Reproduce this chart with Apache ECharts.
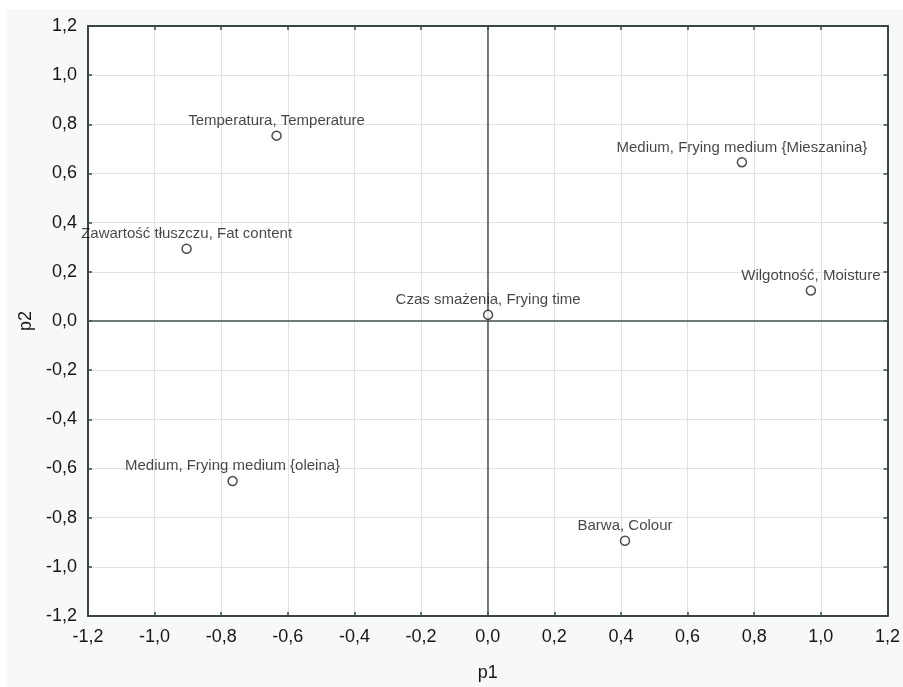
<!DOCTYPE html>
<html>
<head>
<meta charset="utf-8">
<script src="https://cdn.jsdelivr.net/npm/echarts@6/dist/echarts.min.js"></script>
<style>
  html, body { margin: 0; padding: 0; background: #ffffff; }
  #chart { width: 903px; height: 687px; }
</style>
</head>
<body>
<div id="chart"></div>
<script>
// Variable names shown next to each point
const names = [
  'Temperatura, Temperature',
  'Medium, Frying medium {Mieszanina}',
  'Zawartość tłuszczu, Fat content',
  'Wilgotność, Moisture',
  'Czas smażenia, Frying time',
  'Medium, Frying medium {oleina}',
  'Barwa, Colour'
];
// Coordinates on the first factor (p1)
const p1Values = [-0.634, 0.763, -0.904, 0.970, 0.001, -0.766, 0.412];
// Coordinates on the second factor (p2)
const p2Values = [0.754, 0.646, 0.294, 0.124, 0.025, -0.651, -0.894];

// Axis range and tick step, shared by both axes
const axisMin = -1.2;
const axisMax = 1.2;
const axisStep = 0.2;

const points = names.map((n, i) => ({ name: n, value: [p1Values[i], p2Values[i]] }));

const fmt = v => v.toFixed(1).replace('.', ',');
const axisColor = '#3b4545';
const textColor = '#161616';
const fontFamily = 'Liberation Sans, Arial, sans-serif';

function makeAxis(position, showLabels, name, extra) {
  return Object.assign({
    type: 'value',
    position: position,
    min: axisMin,
    max: axisMax,
    interval: axisStep,
    axisLine: { show: true, onZero: false, lineStyle: { color: axisColor, width: 2 } },
    axisTick: { show: true, inside: true, length: 4, lineStyle: { color: axisColor, width: 1.5 } },
    splitLine: { show: showLabels, lineStyle: { color: '#e2e2e2', width: 1 } },
    axisLabel: {
      show: showLabels,
      formatter: fmt,
      color: textColor,
      fontSize: 18,
      fontFamily: fontFamily
    },
    name: name,
    nameLocation: 'middle',
    nameTextStyle: { color: textColor, fontSize: 18, fontFamily: fontFamily }
  }, extra || {});
}

const chart = echarts.init(document.getElementById('chart'), null, { renderer: 'canvas' });
chart.setOption({
  backgroundColor: '#f7f9f9',
  animation: false,
  graphic: [
    { type: 'rect', left: 0, top: 0, shape: { width: 903, height: 9 }, style: { fill: '#ffffff' }, z: -10 },
    { type: 'rect', left: 0, top: 0, shape: { width: 7, height: 687 }, style: { fill: '#ffffff' }, z: -10 }
  ],
  grid: {
    left: 88, right: 14, top: 26, bottom: 65,
    show: true, backgroundColor: '#ffffff', borderWidth: 0
  },
  xAxis: [
    makeAxis('bottom', true, 'p1', { nameGap: 48, axisLabel: { formatter: fmt, color: textColor, fontSize: 18, fontFamily: fontFamily, margin: 12 } }),
    makeAxis('top', false, '')
  ],
  yAxis: [
    makeAxis('left', true, 'p2', { nameGap: 52, axisLabel: { formatter: fmt, color: textColor, fontSize: 18, fontFamily: fontFamily, margin: 11 } }),
    makeAxis('right', false, '')
  ],
  series: [{
    type: 'scatter',
    xAxisIndex: 0,
    yAxisIndex: 0,
    data: points,
    symbol: 'circle',
    symbolSize: 9,
    itemStyle: { color: '#ffffff', borderColor: '#222222', borderWidth: 1.5 },
    label: {
      show: true,
      position: 'top',
      distance: 2,
      formatter: p => p.name,
      color: textColor,
      fontSize: 15,
      fontFamily: fontFamily
    },
    markLine: {
      silent: true,
      symbol: 'none',
      label: { show: false },
      lineStyle: { color: '#485252', width: 1.5, type: 'solid' },
      data: [{ xAxis: 0 }, { yAxis: 0 }],
      z: 1
    },
    z: 5
  }]
});
</script>
</body>
</html>
